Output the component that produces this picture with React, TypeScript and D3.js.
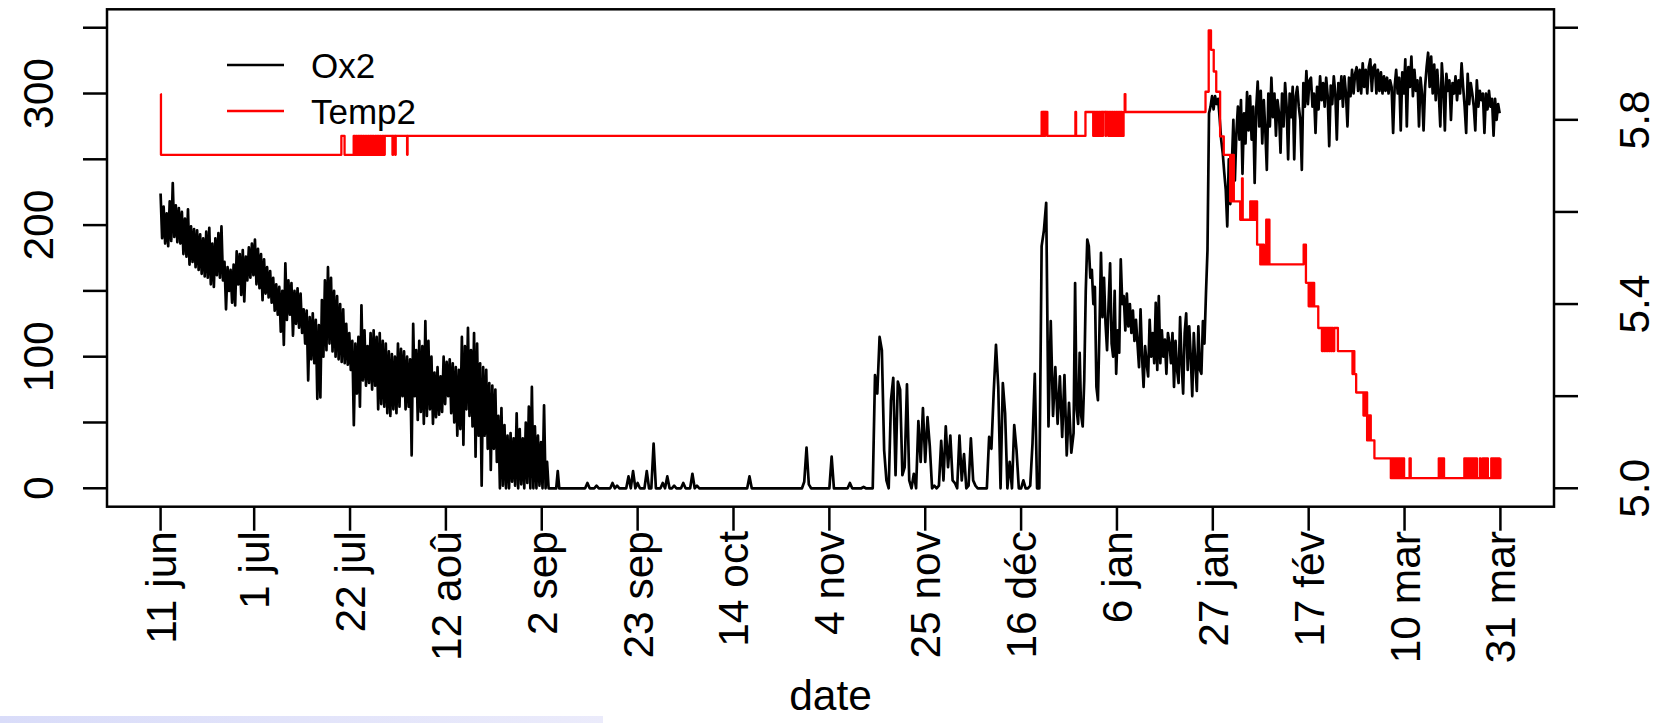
import React from 'react';
import * as d3 from 'd3';

// ---------- DATA ----------
// Day offsets are counted from the first record: 10 jun 12:00
const ox2Start = Date.UTC(2014, 5, 10, 12, 0);

// Ox2, 11 jun -> 2 sep, one reading every 8 h
const ox2SummerDecline = [
  224,190,214,186,209,184, 218,188,232,191,215,187, 213,186,210,178,205,176,
  212,170,199,172,197,168, 196,166,193,163,190,161, 195,160,198,155,186,153,
  190,162,194,160,199,158, 172,136,168,150,166,141, 170,139,180,155,178,147,
  181,142,176,158,183,160, 186,162,189,155,182,152, 178,143,174,148,168,145,
  165,141,160,135,155,132, 153,119,150,109,171,128, 158,132,156,116,150,125,
  152,122,148,118,136,110, 135,82,130,98,133,95, 128,68,124,69,143,100,
  158,105,168,110,160,104, 150,100,146,98,140,96, 136,95,125,94,118,90,
  112,48,110,72,115,62, 139,82,120,78,108,80, 118,75,120,78,115,60,
  118,64,112,62,110,57, 104,55,102,60,100,57, 110,62,106,70,104,60,
  100,62,98,25,125,70, 105,52,112,58,108,49, 127,55,112,60,100,49,
  88,54,92,56,85,58, 100,64,96,70,98,57, 95,50,92,40,90,45,
  115,33,108,60,122,55, 105,47,118,24,110,40, 95,2,92,40,90,30,
  80,14,78,30,75,20, 55,0,61,2,48,0, 40,0,42,5,38,2,
  57,0,45,3,38,0, 50,4,62,0,77,0, 47,0,40,2,35,0,
  63,0,20,0,0,0, 0,0,0,13,0,
];

// Ox2, 3 sep -> 15 nov, one reading every 12 h
const ox2AutumnLow = [
  0,0,0,0,0,0,0,0,0,0,0,
  4,0,0,0,2,0,0,0,0,0,0,4,0,2,0,0,0,0,9,0,13,0,4,0,0,0,13,0,0,34,
  0,0,0,4,0,9,0,0,2,0,0,0,4,0,0,0,11,0,2,
  0,0,0,0,0,0,0,0,0,0,0,0,0,0,0,0,0,0,0,0,0,0,
  9,
  0,0,0,0,0,0,0,0,0,0,0,0,0,0,0,0,0,0,0,0,0,0,0,
  5,31,3,
  0,0,0,0,0,0,0,0,0,
  24,
  0,0,0,0,0,0,0,
  4,0,0,0,0,0,1,0,0,0,0,
];

// Ox2, 15 nov -> 27 dec, one reading every 12 h
const ox2WinterRise = [
  86,72,115,105,29,6,0,67,84,10,
  81,75,10,16,79,6,0,11,0,51,
  20,61,20,54,32,0,2,0,2,36,
  6,47,16,40,6,4,0,40,6,26,
  0,2,38,6,2,0,0,0,0,0,
  39,30,73,109,77,0,80,57,0,20,
  0,48,29,0,0,6,0,0,2,34,
  87,0,0,184,196,217,47,127,55,92,
  49,85,39,86,25,65,27,
];

// Ox2, 27 dec -> 27 jan, one reading every 8 h
const ox2JanuaryBand = [
  42,156,60,49,103,55, 47,82,150,189,184,160, 166,140,153,77,67,120,
  179,130,160,125,105,140, 171,110,100,150,87,120, 103,174,140,146,120,148,
  123,140,118,135,112,128, 110,92,136,100,77,108, 95,85,128,100,118,95,
  141,90,146,95,120,100, 113,87,118,110,95,118, 77,112,90,80,130,95,
  72,118,133,90,123,100, 70,118,95,74,123,90, 87,127,110,148,181,285,
];

// Ox2, 27 jan -> 31 mar, one reading every 8 h
const ox2LateWinter = [
  290,298,288,298,292,296, 281,265,255,240,227,199, 250,216,245,280,234,270,
  290,265,295,239,285,262, 301,272,298,265,290,232, 288,309,275,302,262,295,
  272,242,300,275,312,282, 300,268,295,285,255,300, 275,308,290,250,300,282,
  305,250,298,305,290,280, 242,308,290,317,292,310, 312,290,300,270,305,288,
  313,295,308,290,312,298, 260,306,292,313,300,265, 308,296,313,290,313,300,
  275,312,298,318,300,315, 320,302,318,300,323,305, 318,300,320,326,302,320,
  322,300,318,302,316,300, 313,302,312,300,310,305, 270,305,318,300,312,272,
  316,300,326,275,320,305, 328,298,318,302,310,275, 312,300,272,305,320,331,
  305,328,300,322,295,318, 300,275,323,305,272,315, 302,310,280,308,300,313,
  295,310,300,323,305,290, 270,315,292,308,300,290, 272,310,290,302,295,300,
  270,300,288,302,290,296, 268,296,280,292,285,
];

const ox2Segments = [
  { startDay: 0, stepDays: 1 / 3, values: ox2SummerDecline },
  { startDay: 88, stepDays: 0.5, values: ox2AutumnLow },
  { startDay: 156.5, stepDays: 0.5, values: ox2WinterRise },
  { startDay: 200, stepDays: 1 / 3, values: ox2JanuaryBand },
  { startDay: 230, stepDays: 1 / 3, values: ox2LateWinter },
];

// Temp2 : value changes (day offset, new value)
const tempSummerDays = [0, 0.08, 39.6, 40.3,
  42.3, 42.55, 42.8, 43.05, 43.3, 43.55, 43.8, 44.1, 44.35, 44.6, 44.9, 45.1, 45.4, 45.65,
  45.9, 46.2, 46.45, 46.7, 47.0, 47.25, 47.5, 47.8, 48.05, 48.3, 48.6, 48.85, 49.1,
  50.8, 50.95, 51.4, 51.5, 54.0, 54.1];
const tempSummerValues = [5.856, 5.724, 5.765, 5.724,
  5.765, 5.724, 5.765, 5.724, 5.765, 5.724, 5.765, 5.724, 5.765, 5.724, 5.765, 5.724, 5.765, 5.724,
  5.765, 5.724, 5.765, 5.724, 5.765, 5.724, 5.765, 5.724, 5.765, 5.724, 5.765, 5.724, 5.765,
  5.724, 5.765, 5.724, 5.765, 5.724, 5.765];

const tempWinterDays = [193.0, 193.3, 193.4, 193.7, 193.8, 194.25, 200.4, 200.55, 202.6,
  204.3, 204.5, 204.75, 205.0, 205.25, 205.5, 205.75, 206.0, 206.3, 206.45, 207.0, 207.1,
  207.6, 207.85, 208.1, 208.35, 208.6, 208.85, 209.1, 209.35, 209.6, 209.85, 210.1, 210.35,
  210.6, 210.95, 211.2, 211.35,
  228.9, 229.6, 230.1, 230.7, 231.25, 232.1, 232.9,
  234.3, 234.5, 234.7, 234.9, 235.1, 236.5, 236.9, 237.05,
  238.7, 238.9, 239.1, 239.3, 239.5, 239.7, 239.9, 240.2, 240.9, 241.1, 241.3, 241.5, 241.7,
  242.2, 242.4, 242.6, 242.9];
const tempWinterValues = [5.817, 5.765, 5.817, 5.765, 5.817, 5.765, 5.817, 5.765, 5.817,
  5.765, 5.817, 5.765, 5.817, 5.765, 5.817, 5.765, 5.817, 5.765, 5.817, 5.765, 5.817,
  5.765, 5.817, 5.765, 5.817, 5.765, 5.817, 5.765, 5.817, 5.765, 5.817, 5.765, 5.817,
  5.765, 5.817, 5.856, 5.817,
  5.861, 5.994, 5.952, 5.905, 5.861, 5.764, 5.724,
  5.623, 5.724, 5.623, 5.724, 5.623, 5.583, 5.673, 5.583,
  5.623, 5.583, 5.623, 5.583, 5.623, 5.583, 5.623, 5.529, 5.486, 5.529, 5.486, 5.529, 5.486,
  5.583, 5.486, 5.583, 5.486];

const tempSpringDays = [250.4, 250.9,
  251.5, 251.7, 251.9, 252.1, 252.3, 252.5, 252.7, 253.6,
  254.4, 254.6, 254.8, 255.0, 255.2, 255.4, 255.6, 255.8, 256.0, 256.2, 256.4, 256.6, 256.8, 257.1,
  257.9, 261.1, 261.3, 261.5, 261.9,
  263.5, 263.7, 263.9, 264.1, 264.3, 264.5, 264.7, 264.9, 265.1, 265.9,
  269.5, 269.7, 269.9, 270.1, 270.3, 270.5, 270.7, 270.9, 271.1, 271.3, 271.5, 271.7, 271.9, 272.1, 272.4,
  273.6, 273.85,
  280.0, 280.2, 280.4, 280.6, 280.8, 281.15,
  285.6, 285.8, 286.0, 286.2, 286.4, 286.6, 286.8, 287.0, 287.2, 287.4, 287.6, 287.8, 288.0, 288.35,
  289.0, 289.15,
  289.6, 289.8, 290.0, 290.2, 290.4, 290.75,
  291.5, 291.7, 291.9, 292.1, 292.3, 292.5, 292.7, 292.9, 293.1, 293.3, 293.5];
const tempSpringValues = [5.529, 5.446,
  5.395, 5.446, 5.395, 5.446, 5.395, 5.446, 5.395, 5.348,
  5.298, 5.348, 5.298, 5.348, 5.298, 5.348, 5.298, 5.348, 5.298, 5.348, 5.298, 5.348, 5.298, 5.348,
  5.298, 5.248, 5.298, 5.248, 5.208,
  5.158, 5.208, 5.158, 5.208, 5.104, 5.158, 5.104, 5.158, 5.104, 5.065,
  5.022, 5.065, 5.022, 5.065, 5.022, 5.065, 5.022, 5.065, 5.022, 5.065, 5.022, 5.065, 5.022, 5.065, 5.022,
  5.065, 5.022,
  5.065, 5.022, 5.065, 5.022, 5.065, 5.022,
  5.065, 5.022, 5.065, 5.022, 5.065, 5.022, 5.065, 5.022, 5.065, 5.022, 5.065, 5.022, 5.065, 5.022,
  5.065, 5.022,
  5.065, 5.022, 5.065, 5.022, 5.065, 5.022,
  5.065, 5.022, 5.065, 5.022, 5.065, 5.022, 5.065, 5.022, 5.065, 5.022, 5.065];

const xTickLabels = ['11 jun', '1 jul', '22 jul', '12 aoû', '2 sep', '23 sep', '14 oct', '4 nov',
  '25 nov', '16 déc', '6 jan', '27 jan', '17 fév', '10 mar', '31 mar'];
const xTickDates = [
  Date.UTC(2014, 5, 10, 12), Date.UTC(2014, 6, 1), Date.UTC(2014, 6, 22), Date.UTC(2014, 7, 12),
  Date.UTC(2014, 8, 2), Date.UTC(2014, 8, 23), Date.UTC(2014, 9, 14), Date.UTC(2014, 10, 4),
  Date.UTC(2014, 10, 25), Date.UTC(2014, 11, 16), Date.UTC(2015, 0, 6), Date.UTC(2015, 0, 27),
  Date.UTC(2015, 1, 17), Date.UTC(2015, 2, 10), Date.UTC(2015, 2, 31),
];
const leftTicks = [0, 50, 100, 150, 200, 250, 300, 350];
const leftLabels = [0, 100, 200, 300];
const rightTicks = [5.0, 5.2, 5.4, 5.6, 5.8, 6.0];
const rightLabels = [5.0, 5.4, 5.8];
const legendNames = ['Ox2', 'Temp2'];
const legendColors = ['#000000', '#ff0000'];

// ---------- LAYOUT ----------
const W = 1674;
const H = 723;
const box = { left: 107, right: 1554, top: 9.3, bottom: 506.7 };
const FONT = '"Liberation Sans", Arial, Helvetica, sans-serif';
const DAY = 86400000;

type Pt = { t: number; v: number };

export default function App() {
  const ox2Data: Pt[] = [];
  ox2Segments.forEach((s) => {
    s.values.forEach((v, i) => ox2Data.push({ t: ox2Start + (s.startDay + i * s.stepDays) * DAY, v }));
  });
  const tDays = [...tempSummerDays, ...tempWinterDays, ...tempSpringDays];
  const tVals = [...tempSummerValues, ...tempWinterValues, ...tempSpringValues];
  const tempData: Pt[] = tDays.map((d, i) => ({ t: ox2Start + d * DAY, v: tVals[i] }));

  const dataStart = ox2Start;
  const dataEnd = ox2Start + 293.5 * DAY;
  const span = dataEnd - dataStart;
  const x = d3.scaleUtc()
    .domain([new Date(dataStart - 0.04 * span), new Date(dataEnd + 0.04 * span)])
    .range([box.left, box.right]);
  const yL = d3.scaleLinear().domain([0 - 0.04 * 350, 350 + 0.04 * 350]).range([box.bottom, box.top]);
  const yR = d3.scaleLinear().domain([5 - 0.04, 6 + 0.04]).range([box.bottom, box.top]);

  const ox2Line = d3.line<Pt>()
    .x((d) => x(new Date(d.t)))
    .y((d) => yL(d.v));
  const tempLine = d3.line<Pt>()
    .x((d) => x(new Date(d.t)))
    .y((d) => yR(d.v))
    .curve(d3.curveStepAfter);

  const tickLen = 24;
  const fs = 42.5;

  return (
    <svg width={W} height={H} style={{ position: 'absolute', left: 0, top: 0, background: '#fff' }}
      fontFamily={FONT}>
      <defs>
        <linearGradient id="strip" x1="0" x2="1" y1="0" y2="0">
          <stop offset="0" stopColor="#d9dcf9" />
          <stop offset="1" stopColor="#ebebfb" />
        </linearGradient>
      </defs>
      <rect x={0} y={0} width={W} height={H} fill="#fff" />
      <rect x={0} y={716} width={603} height={7} fill="url(#strip)" />

      {/* series */}
      <path d={ox2Line(ox2Data) || ''} fill="none" stroke="#000" strokeWidth={2.7} strokeLinejoin="round" />
      <path d={tempLine(tempData) || ''} fill="none" stroke="#ff0000" strokeWidth={2.3} strokeLinejoin="round" />

      {/* box */}
      <rect x={box.left} y={box.top} width={box.right - box.left} height={box.bottom - box.top}
        fill="none" stroke="#000" strokeWidth={2.5} />

      {/* left axis */}
      {leftTicks.map((v) => (
        <line key={'lt' + v} x1={box.left} x2={box.left - tickLen} y1={yL(v)} y2={yL(v)} stroke="#000" strokeWidth={2.5} />
      ))}
      {leftLabels.map((v) => (
        <text key={'ll' + v} x={53} y={yL(v)} transform={`rotate(-90 53 ${yL(v)})`} textAnchor="middle"
          fontSize={fs} fill="#000">{v}</text>
      ))}

      {/* right axis */}
      {rightTicks.map((v) => (
        <line key={'rt' + v} x1={box.right} x2={box.right + tickLen} y1={yR(v)} y2={yR(v)} stroke="#000" strokeWidth={2.5} />
      ))}
      {rightLabels.map((v) => (
        <text key={'rl' + v} x={1649} y={yR(v)} transform={`rotate(-90 1649 ${yR(v)})`} textAnchor="middle"
          fontSize={fs} fill="#000">{v.toFixed(1)}</text>
      ))}

      {/* bottom axis */}
      {xTickDates.map((t, i) => {
        const px = x(new Date(t));
        return (
          <g key={'xt' + i}>
            <line x1={px} x2={px} y1={box.bottom} y2={box.bottom + tickLen} stroke="#000" strokeWidth={2.5} />
            <text x={px + 15} y={531} transform={`rotate(-90 ${px + 15} 531)`} textAnchor="end"
              fontSize={fs} fill="#000">{xTickLabels[i]}</text>
          </g>
        );
      })}
      <text x={(box.left + box.right) / 2} y={710} textAnchor="middle" fontSize={fs} fill="#000">date</text>

      {/* legend */}
      {legendNames.map((n, i) => (
        <g key={n}>
          <line x1={227} x2={284} y1={65 + i * 46} y2={65 + i * 46} stroke={legendColors[i]} strokeWidth={2.5} />
          <text x={311} y={65 + i * 46 + 13} fontSize={35} fill="#000">{n}</text>
        </g>
      ))}
    </svg>
  );
}
